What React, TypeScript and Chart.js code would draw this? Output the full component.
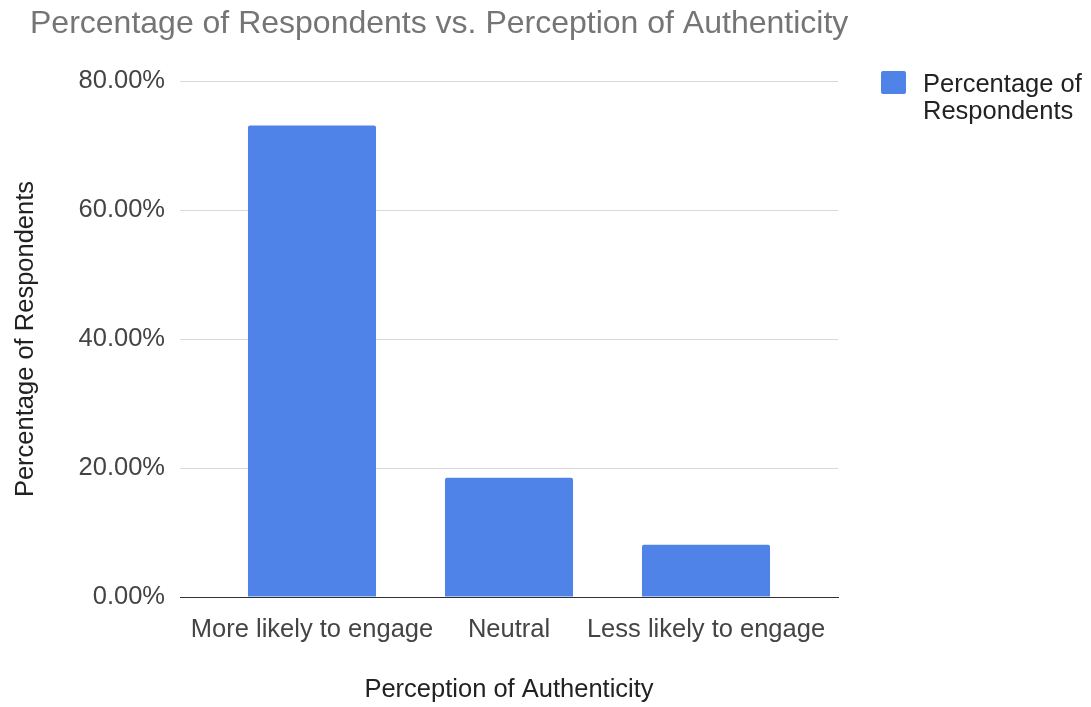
import React, { useEffect, useRef } from "react";
import { Chart, registerables } from "chart.js";

Chart.register(...registerables);

const categories = ["More likely to engage", "Neutral", "Less likely to engage"];
const percentages = [73.1, 18.5, 8.1];
const seriesLabelLines = ["Percentage of", "Respondents"];
const yTickValues = [0, 20, 40, 60, 80];
const chartTitle = "Percentage of Respondents vs. Perception of Authenticity";
const xAxisTitle = "Perception of Authenticity";
const yAxisTitle = "Percentage of Respondents";

const BAR_COLOR = "#4f83e8";
const FONT = "'Liberation Sans', Arial, Helvetica, sans-serif";
// extra empty space (in category units) on both sides of the category axis
const CATEGORY_SIDE_GAP = 0.17;

const decorPlugin = {
  id: "decor",
  afterDraw(chart: any) {
    const ctx = chart.ctx as CanvasRenderingContext2D;
    ctx.save();
    // Title
    ctx.font = `32px ${FONT}`;
    ctx.fillStyle = "#757575";
    ctx.textAlign = "left";
    ctx.textBaseline = "alphabetic";
    ctx.fillText(chartTitle, 30, 33);
    // Legend
    const color = chart.data.datasets[0].backgroundColor;
    ctx.fillStyle = color;
    ctx.beginPath();
    (ctx as any).roundRect(881, 71, 25, 23, 2);
    ctx.fill();
    ctx.font = `25.5px ${FONT}`;
    ctx.fillStyle = "#222222";
    seriesLabelLines.forEach((line, i) => {
      ctx.fillText(line, 923, 92 + i * 27);
    });
    ctx.restore();
  },
};

export default function App() {
  const canvasRef = useRef<HTMLCanvasElement | null>(null);

  useEffect(() => {
    if (!canvasRef.current) return;
    const chart = new Chart(canvasRef.current, {
      type: "bar",
      data: {
        labels: categories,
        datasets: [
          {
            label: seriesLabelLines.join(" "),
            data: percentages,
            backgroundColor: BAR_COLOR,
            borderRadius: 2,
            borderSkipped: "bottom",
            barPercentage: 0.65,
            categoryPercentage: 1,
          },
        ],
      },
      options: {
        animation: false,
        responsive: false,
        devicePixelRatio: 1,
        layout: { padding: { top: 81, right: 253, left: 0, bottom: 0 } },
        plugins: {
          legend: { display: false },
          title: { display: false },
          tooltip: { enabled: false },
        },
        scales: {
          x: {
            grid: { display: false },
            border: { display: true, color: "#333333", width: 1 },
            afterBuildTicks: (s: any) => {
              s._startValue = -0.5 - CATEGORY_SIDE_GAP;
              s._valueRange = categories.length + 2 * CATEGORY_SIDE_GAP;
            },
            ticks: {
              font: { family: FONT, size: 25.5 },
              color: "#444444",
              padding: 10,
              maxRotation: 0,
              autoSkip: false,
            },
            title: {
              display: true,
              text: xAxisTitle,
              font: { family: FONT, size: 25.5 },
              color: "#222222",
              padding: { top: 0, bottom: 2 },
            },
            afterFit: (s: any) => {
              s.height = 110;
            },
          },
          y: {
            min: 0,
            max: 80,
            afterBuildTicks: (s: any) => {
              s.ticks = yTickValues.map((v) => ({ value: v }));
            },
            grid: {
              drawTicks: false,
              color: (c: any) => (c.tick && c.tick.value === 0 ? "#333333" : "#d9d9d9"),
              lineWidth: 1,
            },
            border: { display: false },
            ticks: {
              font: { family: FONT, size: 25.5 },
              color: "#444444",
              padding: 15,
              callback: (v: any) => Number(v).toFixed(2) + "%",
            },
            title: {
              display: true,
              text: yAxisTitle,
              font: { family: FONT, size: 25.5 },
              color: "#222222",
              padding: { top: 11, bottom: 0 },
            },
            afterFit: (s: any) => {
              s.width = 180;
            },
          },
        },
      },
      plugins: [decorPlugin],
    });
    return () => chart.destroy();
  }, []);

  return (
    <div style={{ position: "absolute", left: 0, top: 0, width: 1091, height: 707, background: "#ffffff" }}>
      <canvas ref={canvasRef} width={1091} height={707} style={{ display: "block" }} />
    </div>
  );
}
